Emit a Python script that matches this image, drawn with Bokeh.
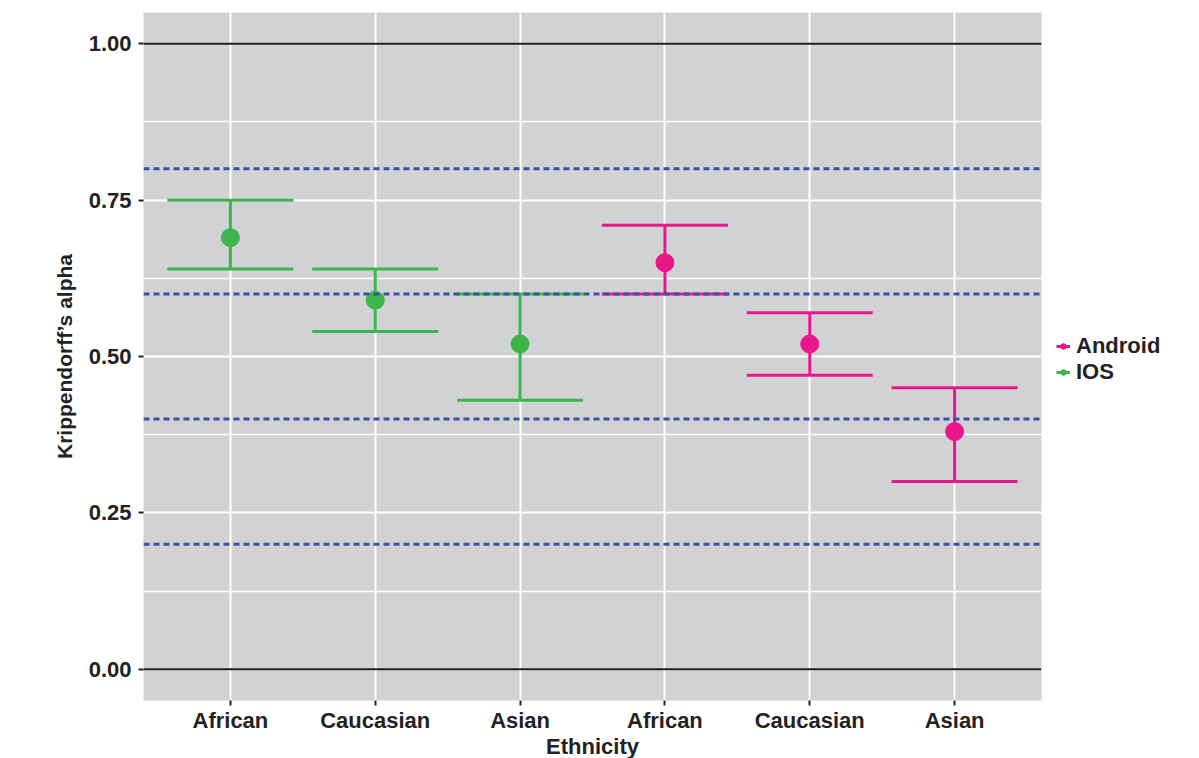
from bokeh.plotting import figure
from bokeh.models import (FixedTicker, Span, Legend, LegendItem, ColumnDataSource,
                          NumeralTickFormatter)
from bokeh.embed import file_html
from bokeh.resources import INLINE

# ---- data ----
ethnicity = ["African", "Caucasian", "Asian", "African", "Caucasian", "Asian"]
platform = ["IOS", "IOS", "IOS", "Android", "Android", "Android"]
alpha = [0.69, 0.59, 0.52, 0.65, 0.52, 0.38]
lower = [0.64, 0.54, 0.43, 0.60, 0.47, 0.30]
upper = [0.75, 0.64, 0.60, 0.71, 0.57, 0.45]
thresholds = [0.2, 0.4, 0.6, 0.8]
bounds = [0.0, 1.0]
y_ticks = [0.0, 0.25, 0.5, 0.75, 1.0]
y_minor = [0.125, 0.375, 0.625, 0.875]

colors = {"IOS": "#3CB54A", "Android": "#EA168C"}
cap_half = 0.435

xs = list(range(1, len(ethnicity) + 1))

p = figure(frame_width=898, frame_height=688, output_backend="svg", toolbar_location=None,
           x_range=(0.4, 6.6), y_range=(-0.05, 1.05),
           min_border_left=143, min_border_top=12, min_border_bottom=10,
           min_border_right=0)
p.background_fill_color = "#D1D2D4"
p.border_fill_color = "white"
p.outline_line_color = None

# grids
p.xgrid.ticker = FixedTicker(ticks=xs)
p.xgrid.grid_line_color = "white"
p.xgrid.grid_line_width = 2
p.ygrid.ticker = FixedTicker(ticks=y_ticks, minor_ticks=y_minor)
p.ygrid.grid_line_color = "white"
p.ygrid.grid_line_width = 2
p.ygrid.minor_grid_line_color = "white"
p.ygrid.minor_grid_line_width = 1.5

# axes
p.xaxis.ticker = FixedTicker(ticks=xs)
p.xaxis.major_label_overrides = {x: e for x, e in zip(xs, ethnicity)}
p.yaxis.ticker = FixedTicker(ticks=y_ticks)
p.yaxis.formatter = NumeralTickFormatter(format="0.00")
for ax in (p.xaxis, p.yaxis):
    ax.axis_line_color = None
    ax.major_tick_line_color = "#222222"
    ax.major_tick_line_width = 2
    ax.major_tick_in = 0
    ax.major_tick_out = 5
    ax.minor_tick_line_color = None
    ax.major_label_text_font = "Liberation Sans"
    ax.major_label_text_font_style = "bold"
    ax.major_label_text_font_size = "22px"
    ax.major_label_text_color = "#222222"
    ax.axis_label_text_font = "Liberation Sans"
    ax.axis_label_text_font_style = "bold"
    ax.axis_label_text_color = "#222222"
p.xaxis.axis_label = "Ethnicity"
p.xaxis.axis_label_text_font_size = "22px"
p.xaxis.axis_label_standoff = -2
p.xaxis.major_label_standoff = 2
p.yaxis.axis_label = "Krippendorff\u2019s alpha"
p.yaxis.axis_label_text_font_size = "21px"
p.yaxis.major_label_standoff = 7
p.yaxis.axis_label_standoff = 10

# error bars and points
items = []
for plat in ["Android", "IOS"]:
    idx = [i for i, pl in enumerate(platform) if pl == plat]
    src = ColumnDataSource(dict(
        x=[xs[i] for i in idx],
        x0=[xs[i] - cap_half for i in idx],
        x1=[xs[i] + cap_half for i in idx],
        lo=[lower[i] for i in idx],
        hi=[upper[i] for i in idx],
        y=[alpha[i] for i in idx],
    ))
    c = colors[plat]
    v = p.segment(x0="x", y0="lo", x1="x", y1="hi", source=src, line_color=c, line_width=3)
    p.segment(x0="x0", y0="lo", x1="x1", y1="lo", source=src, line_color=c, line_width=3)
    p.segment(x0="x0", y0="hi", x1="x1", y1="hi", source=src, line_color=c, line_width=3)
    s = p.scatter(x="x", y="y", source=src, size=18, fill_color=c, line_color=c)
    items.append(LegendItem(label=plat, renderers=[v, s]))

for t in thresholds:
    p.add_layout(Span(location=t, dimension="width", line_color="#3D50A6",
                      line_width=3, line_dash="6 4"))
for b in bounds:
    p.add_layout(Span(location=b, dimension="width", line_color="#1a1a1a",
                      line_width=2))

legend = Legend(items=items, location=(15, 315), orientation="vertical",
                border_line_color=None, background_fill_alpha=0,
                label_text_font="Liberation Sans", label_text_font_style="bold",
                label_text_font_size="22px", label_text_color="#222222",
                glyph_width=14, glyph_height=20, spacing=0, padding=6, margin=0,
                label_standoff=6, label_height=20)
p.add_layout(legend, "right")

open("out.html", "w").write(file_html(p, INLINE))
